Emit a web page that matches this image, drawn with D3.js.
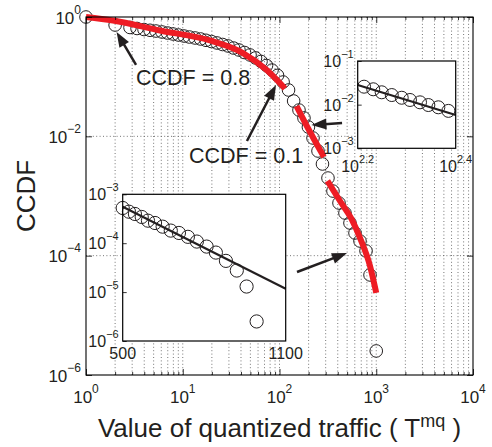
<!DOCTYPE html>
<html><head><meta charset="utf-8">
<script src="https://cdn.jsdelivr.net/npm/d3@7"></script>
<style>
body{margin:0;background:#fff}
text{font-family:"Liberation Sans",Arial,Helvetica,sans-serif;fill:#231f20}
</style>
</head><body>
<svg id="chart" width="492" height="447"></svg>
<script>
// ---------------- data ----------------
const circleX = [1,2,2.85,3.37,3.98,4.59,5.29,6.10,6.96,7.93,9.04,10.3,11.7,13.4,15.3,17.4,19.8,22.6,25.8,29.4,33.5,38.1,43.5,49.6,56.5,64.4,73.4,83.7,95.4,109,124,140,159,179,199,222,250,278,317,357,412,475,535,603,679,784,862,1000];
const circleY = [1,0.734,0.667,0.642,0.617,0.599,0.582,0.561,0.539,0.519,0.499,0.480,0.462,0.445,0.428,0.407,0.388,0.367,0.346,0.327,0.302,0.280,0.254,0.231,0.206,0.180,0.154,0.129,0.105,0.0814,0.0598,0.0391,0.0276,0.0203,0.0143,0.00938,0.00568,0.00344,0.0020,0.00121,7.63e-4,5.19e-4,3.53e-4,2.40e-4,1.76e-4,1.20e-4,4.75e-5,2.53e-6];

const fit1X = [1,1.9,5.82,19.1,41.9,73.8,114];
const fit1Y = [1,0.874,0.594,0.404,0.249,0.129,0.0633];
const fit2X = [150,207,288];
const fit2Y = [0.0322,0.0118,0.00451];
const fit3X = [313,422,555,679,862,1000];
const fit3Y = [0.00179,8.25e-4,4.12e-4,1.98e-4,6.7e-5,2.37e-5];

const inset1X = [163.3,170.5,177.4,186.0,194.9,202.6,212.4,220.9,231.5,242.7];
const inset1Y = [0.0258,0.0225,0.0192,0.0166,0.0144,0.0128,0.0113,0.0098,0.0087,0.0072];
const inset1LineX = [158.5,251.2];
const inset1LineY = [0.0282,0.0058];

const inset2X = [500,523,545,570,593,619,647,677,707,740,773,809,843,880,920,956,993];
const inset2Y = [5.25e-4,4.41e-4,3.96e-4,3.44e-4,2.89e-4,2.59e-4,2.18e-4,1.81e-4,1.62e-4,1.35e-4,1.08e-4,8.53e-5,6.43e-5,4.35e-5,2.76e-5,1.30e-5,2.51e-6];
const inset2LineX = [500,1100];
const inset2LineY = [5.58e-4,1.17e-5];

const xTickExps = [0,1,2,3,4];
const yTickExps = [0,-2,-4,-6];
const inset1XExps = ["2.2","2.4"];
const inset1YExps = [-1,-2,-3];
const inset2XTicks = [500,1100];
const inset2YExps = [-3,-4,-5,-6];

const annoTexts = ["CCDF = 0.8","CCDF = 0.1"];
const annoTextAt = [[3.29,0.0725],[11.6,0.00357]];
// arrows: [tailX, tailY, tipX, tipY] in data units
const arrows = [[3.29,0.157,2.07,0.561],[46.1,0.00835,92.0,0.0725],[443,0.01674,214,0.0155],[151.7,5.33e-5,498.6,1.11e-4]];

const xLabel = "Value of quantized traffic ( T";
const xLabelSup = "mq";
const yLabel = "CCDF";

// ---------------- drawing ----------------
const svg = d3.select("#chart");
const ink = "#231f20";
const M = {left:86, right:473, top:17, bottom:375};
const x = d3.scaleLog().domain([1,1e4]).range([M.left,M.right]);
const y = d3.scaleLog().domain([1e-6,1]).range([M.bottom,M.top]);
const isMajor = v => Math.abs(Math.log10(v) - Math.round(Math.log10(v))) < 1e-9;

// grid
const gGrid = svg.append("g").attr("stroke","#666").attr("stroke-width",0.9).attr("stroke-dasharray","1,2.4");
gGrid.selectAll("line.v").data(x.ticks().filter(v => v>1 && v<1e4)).join("line")
  .attr("x1",d=>x(d)).attr("x2",d=>x(d)).attr("y1",M.top).attr("y2",M.bottom);
gGrid.selectAll("line.h").data(yTickExps.map(e=>10**e).filter(v=>v<1 && v>1e-6)).join("line")
  .attr("y1",d=>y(d)).attr("y2",d=>y(d)).attr("x1",M.left).attr("x2",M.right);

// circles
const pts = circleX.map((v,i)=>[v,circleY[i]]);
svg.append("g").selectAll("circle").data(pts).join("circle")
  .attr("cx",d=>x(d[0])).attr("cy",d=>y(d[1])).attr("r",6.3)
  .attr("fill","none").attr("stroke",ink).attr("stroke-width",1);

// red fit segments
const lineGen = d3.line().x(d=>x(d[0])).y(d=>y(d[1])).curve(d3.curveMonotoneX);
[[fit1X,fit1Y],[fit2X,fit2Y],[fit3X,fit3Y]].forEach(([fx,fy])=>{
  svg.append("path").attr("d",lineGen(fx.map((v,i)=>[v,fy[i]])))
    .attr("fill","none").attr("stroke","#ee1c24").attr("stroke-width",6);
});

// axes (ticks inward)
function styleAxis(g){ g.select(".domain").remove(); g.selectAll(".tick line").attr("stroke","#000").attr("stroke-width",0.8); }
const xMajor = xTickExps.map(e=>10**e);
const xMinor = x.ticks().filter(v=>!isMajor(v));
const yMajor = yTickExps.map(e=>10**e);
svg.append("g").attr("transform",`translate(0,${M.bottom})`).call(d3.axisBottom(x).tickValues(xMinor).tickSize(-3).tickFormat("")).call(styleAxis);
svg.append("g").attr("transform",`translate(0,${M.bottom})`).call(d3.axisBottom(x).tickValues(xMajor).tickSize(-6).tickFormat("")).call(styleAxis);
svg.append("g").attr("transform",`translate(0,${M.top})`).call(d3.axisTop(x).tickValues(xMinor).tickSize(-3).tickFormat("")).call(styleAxis);
svg.append("g").attr("transform",`translate(0,${M.top})`).call(d3.axisTop(x).tickValues(xMajor).tickSize(-6).tickFormat("")).call(styleAxis);
svg.append("g").attr("transform",`translate(${M.left},0)`).call(d3.axisLeft(y).tickValues(yMajor).tickSize(-6).tickFormat("")).call(styleAxis);
svg.append("g").attr("transform",`translate(${M.right},0)`).call(d3.axisRight(y).tickValues(yMajor).tickSize(-6).tickFormat("")).call(styleAxis);
svg.append("rect").attr("x",M.left).attr("y",M.top).attr("width",M.right-M.left).attr("height",M.bottom-M.top)
  .attr("fill","none").attr("stroke","#000").attr("stroke-width",1.1);

function powLabel(px,py,base,exp,anchor,fs,sfs,dy){
  const t = svg.append("text").attr("x",px).attr("y",py).attr("text-anchor",anchor).attr("font-size",fs);
  t.append("tspan").text(base);
  t.append("tspan").attr("dy",-dy).attr("font-size",sfs).text(exp);
  return t;
}
const fmtExp = e => (typeof e === "number" && e<0) ? "\u2212"+Math.abs(e) : String(e);
xTickExps.forEach(e=>powLabel(x(10**e),403,"10",fmtExp(e),"middle",17,12,10));
yTickExps.forEach(e=>powLabel(81,y(10**e)+6.5,"10",fmtExp(e),"end",17,12,10));

// axis titles
const xt = svg.append("text").attr("x",(M.left+M.right)/2).attr("y",437).attr("text-anchor","middle").attr("font-size",26);
xt.append("tspan").text(xLabel);
xt.append("tspan").attr("dy",-10).attr("font-size",18).text(xLabelSup);
xt.append("tspan").attr("dy",10).text(" )");
svg.append("text").attr("transform",`translate(35,${(M.top+M.bottom)/2}) rotate(-90)`).attr("text-anchor","middle").attr("font-size",26).text(yLabel);

// ---------------- inset 1 ----------------
const i1 = {l:357.7,r:455.7,t:61,b:148.3};
const x1 = d3.scaleLog().domain([10**2.2,10**2.4]).range([i1.l,i1.r]);
const y1 = d3.scaleLog().domain([1e-3,1e-1]).range([i1.b,i1.t]);
svg.append("rect").attr("x",i1.l).attr("y",i1.t).attr("width",i1.r-i1.l).attr("height",i1.b-i1.t).attr("fill","#fff");
svg.append("g").selectAll("circle").data(inset1X.map((v,i)=>[v,inset1Y[i]])).join("circle")
  .attr("cx",d=>x1(d[0])).attr("cy",d=>y1(d[1])).attr("r",6.5).attr("fill","none").attr("stroke",ink).attr("stroke-width",1);
svg.append("path").attr("d",d3.line().x(d=>x1(d[0])).y(d=>y1(d[1]))(inset1LineX.map((v,i)=>[v,inset1LineY[i]])))
  .attr("stroke",ink).attr("stroke-width",2.2).attr("fill","none");
svg.append("g").attr("transform",`translate(${i1.l},0)`).call(d3.axisLeft(y1).tickValues(inset1YExps.map(e=>10**e)).tickSize(-4).tickFormat("")).call(styleAxis);
svg.append("rect").attr("x",i1.l).attr("y",i1.t).attr("width",i1.r-i1.l).attr("height",i1.b-i1.t).attr("fill","none").attr("stroke","#000").attr("stroke-width",1.2);
inset1YExps.forEach(e=>powLabel(i1.l-4,y1(10**e)+6,"10",fmtExp(e),"end",16,11,9));
inset1XExps.forEach(e=>powLabel(x1(10**(+e)),171.5,"10",e,"middle",16,11,9));

// ---------------- inset 2 ----------------
const i2 = {l:122.7,r:285.7,t:194.3,b:341};
const x2 = d3.scaleLinear().domain([500,1100]).range([i2.l,i2.r]);
const y2 = d3.scaleLog().domain([1e-6,1e-3]).range([i2.b,i2.t]);
svg.append("rect").attr("x",i2.l).attr("y",i2.t).attr("width",i2.r-i2.l).attr("height",i2.b-i2.t).attr("fill","#fff");
svg.append("g").selectAll("circle").data(inset2X.map((v,i)=>[v,inset2Y[i]])).join("circle")
  .attr("cx",d=>x2(d[0])).attr("cy",d=>y2(d[1])).attr("r",6.6).attr("fill","none").attr("stroke",ink).attr("stroke-width",1);
svg.append("path").attr("d",d3.line().x(d=>x2(d[0])).y(d=>y2(d[1]))(inset2LineX.map((v,i)=>[v,inset2LineY[i]])))
  .attr("stroke",ink).attr("stroke-width",2.2).attr("fill","none");
svg.append("g").attr("transform",`translate(${i2.l},0)`).call(d3.axisLeft(y2).tickValues(inset2YExps.map(e=>10**e)).tickSize(-4).tickFormat("")).call(styleAxis);
svg.append("rect").attr("x",i2.l).attr("y",i2.t).attr("width",i2.r-i2.l).attr("height",i2.b-i2.t).attr("fill","none").attr("stroke","#000").attr("stroke-width",1.2);
inset2YExps.forEach(e=>powLabel(i2.l-4,y2(10**e)+6,"10",fmtExp(e),"end",16,11,9));
inset2XTicks.forEach(v=>svg.append("text").attr("x",x2(v)).attr("y",359).attr("text-anchor","middle").attr("font-size",16).text(v));

// ---------------- annotations ----------------
annoTexts.forEach((s,i)=>svg.append("text").attr("x",x(annoTextAt[i][0])).attr("y",y(annoTextAt[i][1])).attr("font-size",21.5).text(s));
arrows.forEach(a=>{
  const x0=x(a[0]), y0=y(a[1]), xe=x(a[2]), ye=y(a[3]);
  const ang = Math.atan2(ye-y0,xe-x0), L=15, Wd=5.5;
  const bx = xe-L*Math.cos(ang), by = ye-L*Math.sin(ang);
  svg.append("line").attr("x1",x0).attr("y1",y0).attr("x2",bx+2*Math.cos(ang)).attr("y2",by+2*Math.sin(ang)).attr("stroke",ink).attr("stroke-width",2.5);
  svg.append("path").attr("d",`M${xe},${ye}L${bx+Wd*Math.sin(ang)},${by-Wd*Math.cos(ang)}L${bx-Wd*Math.sin(ang)},${by+Wd*Math.cos(ang)}Z`).attr("fill",ink);
});
</script>
</body></html>
